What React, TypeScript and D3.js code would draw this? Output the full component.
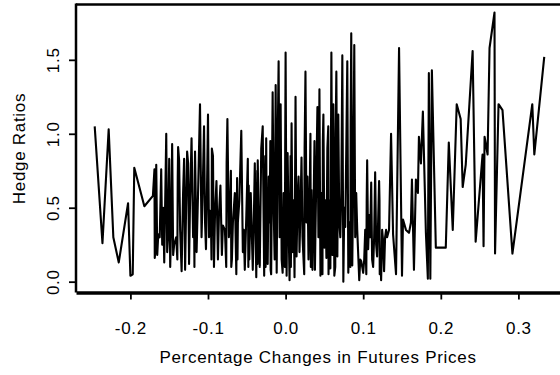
import { useEffect, useRef } from "react";
import * as d3 from "d3";

// futures price change (x) and hedge ratio (y)
const priceChange = [
  -0.246, -0.236, -0.228, -0.222, -0.215, -0.203, -0.2, -0.197, -0.195, -0.182, -0.171,
  -0.169, -0.1686, -0.168, -0.1667, -0.1654, -0.1641, -0.1622, -0.1603, -0.159, -0.1577,
  -0.1564, -0.1538, -0.1526, -0.1513, -0.15, -0.1487, -0.1474, -0.1462, -0.1449, -0.1436,
  -0.141, -0.1385, -0.1372, -0.1359, -0.134, -0.1321, -0.1308, -0.1295, -0.1282, -0.1269,
  -0.1256, -0.1244, -0.1231, -0.1212, -0.1192, -0.1179, -0.1167, -0.1147, -0.1128, -0.1103,
  -0.1083, -0.1071, -0.1051, -0.1038, -0.1026, -0.1013, -0.1, -0.0987, -0.0974, -0.0962,
  -0.0936, -0.0923, -0.091, -0.0891, -0.0872, -0.0859, -0.084, -0.0821, -0.0808, -0.0782,
  -0.075, -0.0731, -0.0718, -0.0692, -0.0679, -0.0654, -0.0635, -0.0615, -0.0596, -0.0571,
  -0.0551, -0.0538, -0.0526, -0.0506, -0.0487, -0.0468, -0.0449, -0.0423, -0.041, -0.0397,
  -0.0378, -0.0359, -0.0346, -0.0333, -0.0314, -0.0295, -0.0276, -0.025, -0.0244, -0.0231,
  -0.0218, -0.0205, -0.0186, -0.0167, -0.0154, -0.0141, -0.0128, -0.0115, -0.0103, -0.009,
  -0.0077, -0.0064, -0.0051, -0.0038, -0.0026, 0.0, 0.0013, 0.0026, 0.0038, 0.0051,
  0.0077, 0.009, 0.0103, 0.0115, 0.0128, 0.0141, 0.0154, 0.0167, 0.0179, 0.0192,
  0.0205, 0.0218, 0.0231, 0.0256, 0.0269, 0.0282, 0.0295, 0.0308, 0.0333, 0.0346,
  0.0359, 0.0385, 0.041, 0.0423, 0.0436, 0.0449, 0.0462, 0.0487, 0.05, 0.0513,
  0.0526, 0.0538, 0.0564, 0.0577, 0.059, 0.0603, 0.0615, 0.0628, 0.0654, 0.0667,
  0.0679, 0.0692, 0.0705, 0.0718, 0.0731, 0.0744, 0.0756, 0.0769, 0.0782, 0.0795,
  0.0808, 0.0821, 0.0846, 0.0859, 0.0872, 0.0885, 0.0897, 0.091, 0.0923, 0.0949,
  0.0962, 0.0974, 0.0987, 0.1, 0.1013, 0.1026, 0.1051, 0.1064, 0.1077, 0.109,
  0.1103, 0.1115, 0.1128, 0.1141, 0.1154, 0.1167, 0.1179, 0.1192, 0.1205, 0.1218,
  0.1231, 0.1244, 0.1256, 0.1269, 0.1282, 0.1295, 0.1308, 0.1333, 0.1359, 0.1385,
  0.1423, 0.1462, 0.15, 0.1513, 0.1551, 0.159, 0.1615, 0.1628, 0.1654, 0.1679,
  0.1705, 0.1718, 0.1744, 0.1769, 0.1808, 0.1833, 0.1846, 0.1865, 0.1885, 0.1936,
  0.2064, 0.2103, 0.2154, 0.2205, 0.2256, 0.2282, 0.2321, 0.241, 0.2449, 0.2538,
  0.2551, 0.2564, 0.2603, 0.2628, 0.2692, 0.2699, 0.2744, 0.2795, 0.2923, 0.3179,
  0.3205, 0.3333,
];

const hedgeRatio = [
  1.05, 0.26, 1.03, 0.3, 0.13, 0.53, 0.04, 0.05, 0.77, 0.51, 0.58,
  0.76, 0.16, 0.2, 0.79, 0.18, 0.32, 0.3, 0.76, 0.25, 0.5,
  0.13, 1.0, 0.2, 0.32, 0.83, 0.1, 0.4, 0.93, 0.18, 0.25,
  0.3, 0.91, 0.82, 0.35, 0.07, 0.6, 0.83, 0.08, 0.5, 0.88,
  0.8, 0.12, 0.55, 0.97, 0.3, 0.45, 0.88, 0.2, 0.6, 1.2,
  0.3, 0.55, 1.05, 0.4, 0.22, 0.62, 1.13, 0.3, 0.48, 0.4,
  0.85, 0.1, 0.45, 0.68, 0.15, 0.45, 0.65, 0.18, 0.38, 0.35,
  1.1, 0.3, 0.45, 0.15, 0.4, 0.6, 0.05, 0.4, 0.55, 1.02,
  0.2, 0.35, 0.08, 0.45, 0.83, 0.15, 0.6, 0.08, 0.4, 0.8,
  0.03, 0.82, 0.35, 0.1, 0.9, 1.05, 0.04, 0.97, 0.35, 0.12,
  0.71, 0.4, 0.05, 1.28, 0.5, 0.15, 1.33, 0.06, 0.9, 1.49,
  0.3, 1.2, 0.15, 0.06, 0.6, 1.55, 0.04, 0.87, 0.4, 0.01,
  1.07, 0.2, 0.55, 0.03, 1.25, 0.17, 0.55, 0.71, 0.2, 0.5,
  0.84, 0.3, 0.15, 1.42, 0.4, 0.71, 0.15, 0.5, 0.62, 0.08,
  0.45, 0.35, 1.18, 0.3, 1.3, 0.04, 0.6, 1.13, 0.23, 0.55,
  0.16, 0.9, 0.55, 0.09, 1.55, 0.18, 1.2, 0.04, 1.42, 0.17,
  1.13, 0.4, 0.3, 0.6, 1.53, 0.0, 0.5, 0.37, 0.9, 1.49,
  0.06, 0.4, 1.68, 0.11, 0.7, 1.6, 0.3, 0.6, 0.35, 0.01,
  0.15, 0.14, 0.1, 0.06, 0.15, 0.35, 0.82, 0.22, 0.45, 0.3,
  0.67, 0.15, 0.1, 0.3, 0.74, 0.25, 0.17, 0.4, 0.68, 0.2,
  0.01, 0.35, 0.28, 0.07, 0.3, 0.35, 0.3, 0.35, 1.0, 0.32,
  0.05, 1.58, 0.04, 0.42, 0.35, 0.33, 0.4, 0.69, 0.08, 0.69,
  0.6, 0.98, 0.8, 1.15, 0.33, 0.02, 1.41, 0.02, 1.43, 0.23,
  0.23, 0.94, 0.35, 1.2, 1.1, 0.64, 0.79, 1.56, 0.27, 0.86,
  0.24, 0.98, 0.86, 1.58, 1.82, 0.19, 1.2, 1.16, 0.19, 1.2,
  0.86, 1.52,
];

// extra crossings in the darkest part of the band, read separately
const extraChange = [
  -0.1395, -0.139, -0.1175, -0.117, -0.0955, -0.095, -0.0765, -0.076, -0.0705, -0.07,
  -0.0625, -0.062, -0.048, -0.0475, -0.0365, -0.0362, -0.0262, -0.0258, -0.0197, -0.0193,
  -0.001, -0.0005, 0.0064, 0.0068, 0.024, 0.0245, 0.032, 0.0325, 0.0372, 0.0378,
  0.0475, 0.048, 0.055, 0.0553, 0.064, 0.0645, 0.0835, 0.0838, 0.104, 0.1045,
  0.121, 0.1213,
];
const extraRatio = [
  0.15, 0.7, 0.1, 0.75, 0.15, 0.9, 0.1, 0.8, 0.75, 0.1,
  0.7, 0.15, 0.1, 0.65, 0.75, 0.12, 0.85, 0.1, 0.95, 0.08,
  0.1, 0.95, 0.85, 0.1, 0.05, 0.9, 1.0, 0.1, 0.95, 0.08,
  0.05, 0.95, 1.05, 0.05, 0.1, 1.0, 0.1, 1.05, 0.05, 0.55,
  0.55, 0.05,
];

const xTicks = [-0.2, -0.1, 0.0, 0.1, 0.2, 0.3];
const yTicks = [0.0, 0.5, 1.0, 1.5];

const font = "'Liberation Sans', Arial, sans-serif";

export default function App() {
  const svgRef = useRef<SVGSVGElement>(null);

  useEffect(() => {
    const width = 560;
    const height = 375;
    const left = 76;
    const right = 560;
    const top = 4.5;
    const bottom = 292.5;

    const svg = d3.select(svgRef.current);
    svg.selectAll("*").remove();
    svg.attr("width", width).attr("height", height);

    const x = d3.scaleLinear().domain([-0.2701, 0.3536]).range([left, right]);
    const y = d3.scaleLinear().domain([-0.0732, 1.8741]).range([bottom, top]);

    const points = priceChange
      .map((d, i) => [d, hedgeRatio[i]] as [number, number])
      .concat(extraChange.map((d, i) => [d, extraRatio[i]] as [number, number]))
      .sort((a, b) => a[0] - b[0]);

    const line = d3
      .line<[number, number]>()
      .x(d => x(d[0]))
      .y(d => y(d[1]));

    svg
      .append("path")
      .datum(points)
      .attr("d", line)
      .attr("fill", "none")
      .attr("stroke", "#000")
      .attr("stroke-width", 2.1)
      .attr("stroke-linejoin", "round");

    // frame: top and left edges, heavy bottom axis
    svg.append("line")
      .attr("x1", left).attr("x2", right + 2)
      .attr("y1", top).attr("y2", top)
      .attr("stroke", "#000").attr("stroke-width", 2.5);
    svg.append("line")
      .attr("x1", left).attr("x2", left)
      .attr("y1", top - 1).attr("y2", bottom)
      .attr("stroke", "#000").attr("stroke-width", 2.5);

    const xAxis = svg
      .append("g")
      .attr("transform", `translate(0,${bottom})`)
      .call(d3.axisBottom(x).tickValues(xTicks).tickSize(7).tickSizeOuter(0).tickPadding(22).tickFormat(d3.format(".1f")));
    xAxis.select(".domain").attr("stroke-width", 3.5);
    xAxis.selectAll(".tick line").attr("stroke-width", 1.8);
    xAxis.selectAll(".tick text")
      .attr("font-family", font)
      .attr("font-size", 17)
      .attr("letter-spacing", 0.7)
      .attr("fill", "#000")
      .text(d => (d as number).toFixed(1).replace("-0.0", "0.0"));

    const yAxis = svg
      .append("g")
      .attr("transform", `translate(${left},0)`)
      .call(d3.axisLeft(y).tickValues(yTicks).tickSize(7).tickSizeOuter(0).tickFormat(d3.format(".1f")));
    yAxis.select(".domain").remove();
    yAxis.selectAll(".tick line").attr("stroke-width", 1.8);
    yAxis.selectAll(".tick text")
      .attr("font-family", font)
      .attr("font-size", 17)
      .attr("letter-spacing", 0.7)
      .attr("fill", "#000")
      .attr("text-anchor", "middle")
      .attr("dy", 0)
      .attr("x", 0)
      .attr("transform", "translate(-17,0) rotate(-90)");

    svg.append("text")
      .attr("x", (left + right) / 2)
      .attr("y", 363)
      .attr("text-anchor", "middle")
      .attr("font-family", font)
      .attr("font-size", 17)
      .attr("letter-spacing", 0.7)
      .text("Percentage Changes in Futures Prices");

    svg.append("text")
      .attr("transform", `translate(25,${(top + bottom) / 2}) rotate(-90)`)
      .attr("text-anchor", "middle")
      .attr("font-family", font)
      .attr("font-size", 17)
      .attr("letter-spacing", 0.7)
      .text("Hedge Ratios");
  }, []);

  return (
    <div style={{ position: "absolute", left: 0, top: 0 }}>
      <svg ref={svgRef} style={{ display: "block" }}></svg>
    </div>
  );
}
